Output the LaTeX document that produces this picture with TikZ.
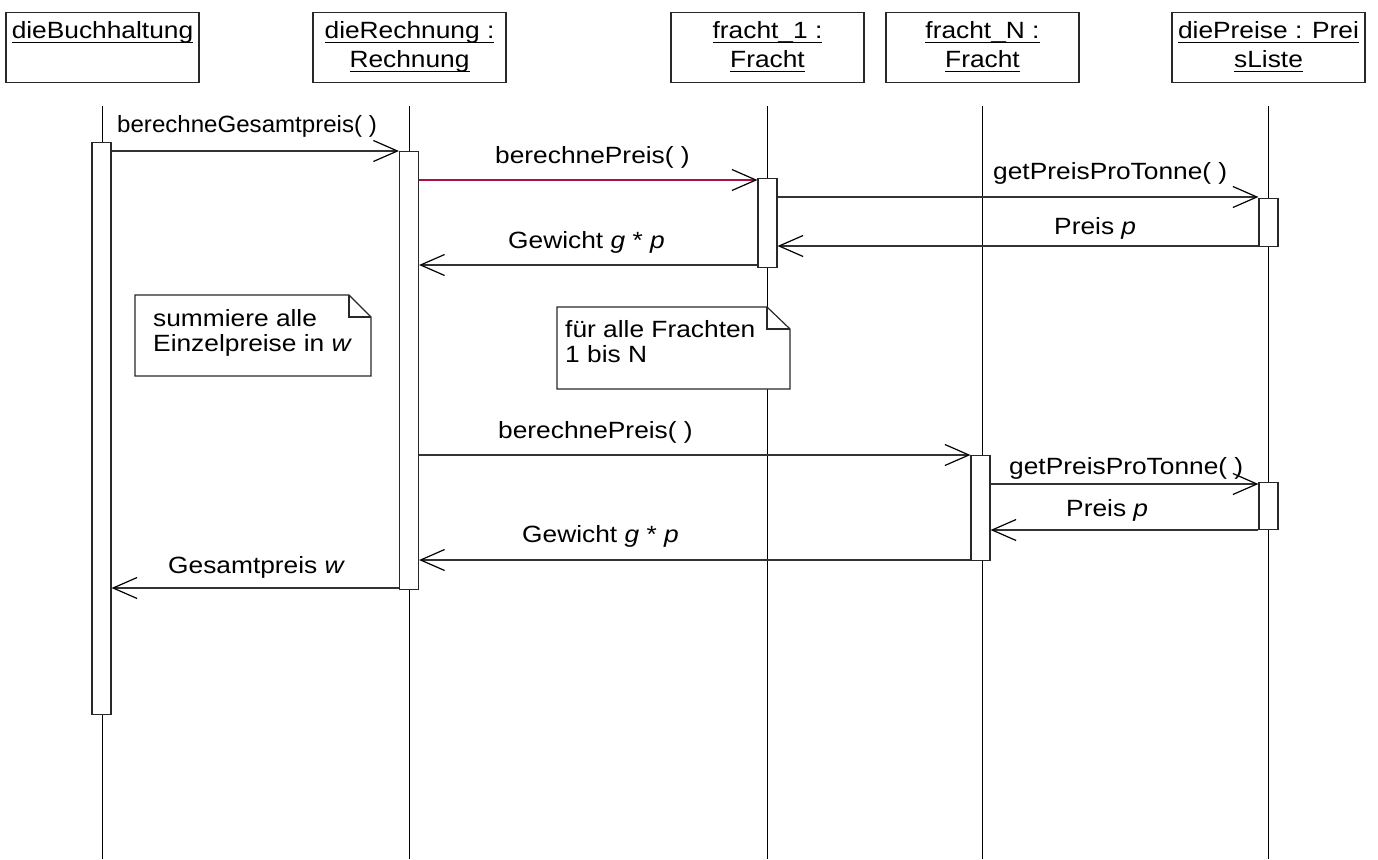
\documentclass[tikz,border=0pt]{standalone}
\usepackage{fontspec}
\setmainfont{Liberation Sans}[FakeStretch=1.12]
\usetikzlibrary{arrows.meta}
\definecolor{callred}{RGB}{168,16,72}
\definecolor{frame}{RGB}{40,40,40}
% underline drawn just below the baseline, as in UML object names
\newcommand\ulbox[1]{\setbox0\hbox{#1}\rlap{\rule[-4.5pt]{\wd0}{1.3pt}}\box0}
\begin{document}
\begin{tikzpicture}[x=1pt,y=-1pt,
  obj/.style={draw=frame, line width=1.2pt, fill=white, minimum width=193,
    minimum height=70, inner sep=0pt, align=center, anchor=north,
    font=\fontsize{23.5}{29}\selectfont},
  life/.style={draw=black, line width=1.2pt},
  bar/.style={draw=frame, line width=1.2pt, fill=white, minimum width=19,
    inner sep=0pt, anchor=north},
  msg/.style={line width=1.2pt, draw=black!80,
    -{Straight Barb[length=24pt,width=21pt,line width=1.2pt,color=black]}},
  lbl/.style={anchor=base west, inner sep=0pt, font=\fontsize{23.5}{27}\selectfont},
  notebox/.style={draw=frame, line width=1.2pt, fill=white, line join=miter},
  notetxt/.style={anchor=north west, inner sep=0pt, align=left,
    font=\fontsize{23.5}{24}\selectfont}]
\useasboundingbox (0,0) rectangle (1378,859);
\fill[white] (0,0) rectangle (1378,859);

% objects
\node[obj] (hB)  at (102.5,12) {\ulbox{dieBuchhaltung}\strut\\\strut};
\node[obj] (hR)  at (409.5,12) {\ulbox{dieRechnung :}\strut\\\ulbox{Rechnung}\strut};
\node[obj] (hF1) at (767.5,12) {\ulbox{fracht\_1 :}\strut\\\ulbox{Fracht}\strut};
\node[obj] (hFN) at (982.5,12) {\ulbox{fracht\_N :}\strut\\\ulbox{Fracht}\strut};
\node[obj] (hP)  at (1268.5,12) {\ulbox{diePreise : Prei}\strut\\\ulbox{sListe}\strut};

% lifelines
\foreach \o in {hB,hR,hF1,hFN,hP}
  \draw[life] (\o.south |- 0,106) -- (\o.south |- 0,859);

% activation bars
\node[bar, minimum height=572] (bB)  at (101.5,142) {};
\node[bar, minimum height=438] (bR)  at (409,151) {};
\node[bar, minimum height=89]  (bF1) at (767.5,178) {};
\node[bar, minimum height=48]  (bP1) at (1268.5,198) {};
\node[bar, minimum height=105] (bFN) at (980.5,455) {};
\node[bar, minimum height=47]  (bP2) at (1268.5,482) {};

% messages
\draw[msg] (bB.east |- 0,151) -- (bR.west |- 0,151);
\draw[msg, draw=callred] (bR.east |- 0,180) -- (bF1.west |- 0,180);
\draw[msg] (bF1.east |- 0,197) -- (bP1.west |- 0,197);
\draw[msg] (bP1.west |- 0,246) -- (bF1.east |- 0,246);
\draw[msg] (bF1.west |- 0,265) -- (bR.east |- 0,265);
\draw[msg] (bR.east |- 0,455) -- (bFN.west |- 0,455);
\draw[msg] (bFN.east |- 0,484) -- (bP2.west |- 0,484);
\draw[msg] (bP2.west |- 0,530) -- (bFN.east |- 0,530);
\draw[msg] (bFN.west |- 0,560) -- (bR.east |- 0,560);
\draw[msg] (bR.west |- 0,588) -- (bB.east |- 0,588);

% message labels
\node[lbl] (l1)  at (117,132)  {\scalebox{0.915}[1]{berechneGesamtpreis( )}};
\node[lbl] (l2)  at (495,163)  {berechnePreis( )};
\node[lbl] (l3)  at (993,179)  {getPreisProTonne( )};
\node[lbl] (l4)  at (1054,234) {Preis \textit{p}};
\node[lbl] (l5)  at (508,248)  {Gewicht \textit{g} * \textit{p}};
\node[lbl] (l6)  at (498,438)  {berechnePreis( )};
\node[lbl] (l7)  at (1009,474) {getPreisProTonne( )};
\node[lbl] (l8)  at (1066,516) {Preis \textit{p}};
\node[lbl] (l9)  at (522,542)  {Gewicht \textit{g} * \textit{p}};
\node[lbl] (l10) at (168,573)  {Gesamtpreis \textit{w}};

% notes with folded corner
\draw[notebox] (135,295) -- (349,295) -- (371,317) -- (371,376) -- (135,376) -- cycle;
\draw[notebox, fill=none] (349,295) -- (349,317) -- (371,317);
\node[notetxt] (n1) at (153,309) {\strut summiere alle\\Einzelpreise in \textit{w}};

\draw[notebox] (557,307) -- (767,307) -- (790,329) -- (790,389) -- (557,389) -- cycle;
\draw[notebox, fill=none] (767,307) -- (767,329) -- (790,329);
\node[notetxt] (n2) at (565,320) {\strut für alle Frachten\\1 bis N};
\end{tikzpicture}
\end{document}
